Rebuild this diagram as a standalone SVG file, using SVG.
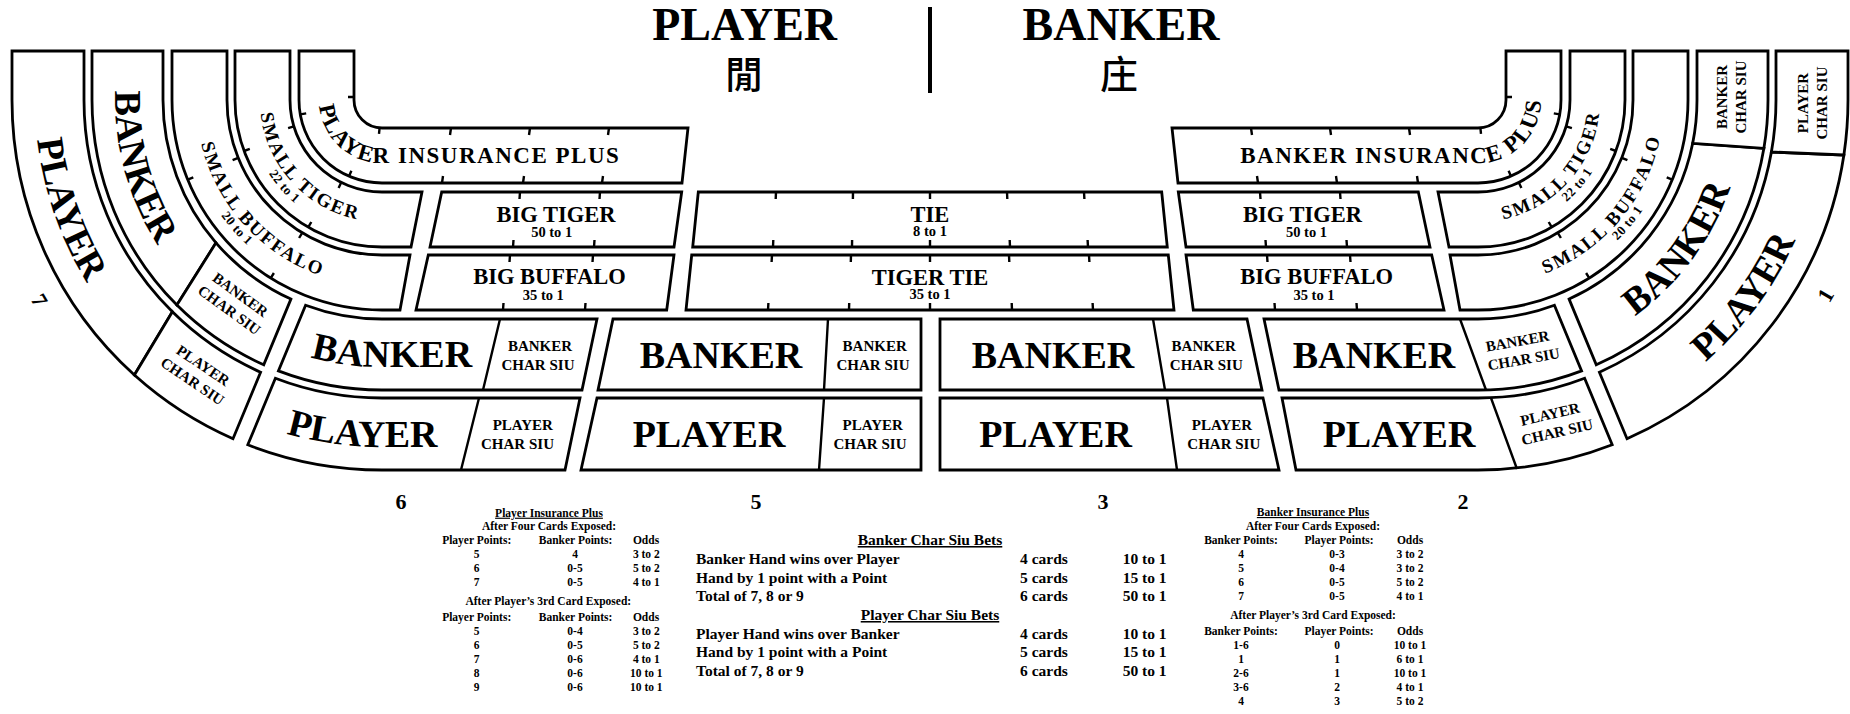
<svg xmlns="http://www.w3.org/2000/svg" width="1850" height="714" viewBox="0 0 1850 714">
<style>
.b{fill:#fff;stroke:#000;stroke-width:2.8;stroke-linejoin:miter}
.t{stroke:#000;stroke-width:2.4;fill:none}
text{font-family:"Liberation Serif","Times New Roman",serif;font-weight:bold;fill:#000}
.mid{text-anchor:middle}
.big{font-size:38px}
.cs{font-size:15px;text-anchor:middle}
.lab{font-size:22.5px;text-anchor:middle}
.odd{font-size:14.5px;text-anchor:middle}
.sm{font-size:19px;letter-spacing:2px;text-anchor:middle}
.sub{font-size:13px;letter-spacing:0.5px;text-anchor:middle}
.pip{font-size:23px;letter-spacing:1.5px}
.num{font-size:22px;text-anchor:middle}
.tb{font-size:11.5px;text-anchor:middle}
.cb{font-size:15.5px}
.ttl{font-size:46px;text-anchor:middle}
.cjk{font-family:"Noto Sans CJK TC","Noto Sans CJK SC",sans-serif;font-weight:500;font-size:38px;text-anchor:middle}
</style>
<defs>
<path id="r63" d="M319,51 L319,100 A63 63 0 0 0 382,163 L1478,163 A63 63 0 0 0 1541,100 L1541,51"/>
<path id="r122" d="M260,51 L260,100 A122 122 0 0 0 382,222 L1478,222 A122 122 0 0 0 1600,100 L1600,51"/>
<path id="r135" d="M247,51 L247,100 A135 135 0 0 0 382,235 L1478,235 A135 135 0 0 0 1613,100 L1613,51"/>
<path id="r186" d="M196,51 L196,100 A186 186 0 0 0 382,286 L1478,286 A186 186 0 0 0 1664,100 L1664,51"/>
<path id="r198" d="M184,51 L184,100 A198 198 0 0 0 382,298 L1478,298 A198 198 0 0 0 1676,100 L1676,51"/>
<path id="r267" d="M115,51 L115,100 A267 267 0 0 0 382,367 L1478,367 A267 267 0 0 0 1745,100 L1745,51"/>
<path id="r347" d="M35,51 L35,100 A347 347 0 0 0 382,447 L1478,447 A347 347 0 0 0 1825,100 L1825,51"/>
</defs>
<rect width="1850" height="714" fill="#fff"/>

<g id="title">
<text class="ttl" x="744.6" y="40">PLAYER</text>
<text class="ttl" x="1121" y="40">BANKER</text>
<text class="cjk" x="744" y="88">閒</text>
<text class="cjk" x="1119" y="88">庄</text>
<line x1="930" y1="7" x2="930" y2="93" stroke="#000" stroke-width="4"/>
</g>

<g id="player-insurance-plus">
<path class="b" d="M299,51 L354,51 L354,100 A28 28 0 0 0 382,128 L688,128 L682,183 L382,183 A83 83 0 0 1 299,100 Z"/>
<text class="pip"><textPath href="#r63" startOffset="55">PLAYER INSURANCE PLUS</textPath></text>
</g>
<g id="banker-insurance-plus">
<path class="b" d="M1172,128 L1478,128 A28 28 0 0 0 1506,100 L1506,51 L1561,51 L1561,100 A83 83 0 0 1 1478,183 L1178,183 Z"/>
<text class="pip"><textPath href="#r63" startOffset="1006">BANKER INSURANCE PLUS</textPath></text>
</g>

<g id="small-tiger-left">
<path class="b" d="M235,51 L290,51 L290,100 A92 92 0 0 0 382,192 L422,192 L411,247 L382,247 A147 147 0 0 1 235,100 Z"/>
<text class="sm"><textPath href="#r122" startOffset="139.5">SMALL TIGER</textPath></text>
<text class="sub"><textPath href="#r135" startOffset="146.8">22 to 1</textPath></text>
</g>
<g id="small-tiger-right">
<path class="b" d="M1438,192 L1478,192 A92 92 0 0 0 1570,100 L1570,51 L1625,51 L1625,100 A147 147 0 0 1 1478,247 L1449,247 Z"/>
<text class="sm"><textPath href="#r122" startOffset="1438.9">SMALL TIGER</textPath></text>
<text class="sub"><textPath href="#r135" startOffset="1473.7">22 to 1</textPath></text>
</g>
<g id="small-buffalo-left">
<path class="b" d="M172,51 L227,51 L227,100 A155 155 0 0 0 382,255 L410,255 L400,310 L382,310 A210 210 0 0 1 172,100 Z"/>
<text class="sm"><textPath href="#r186" startOffset="186.3">SMALL BUFFALO</textPath></text>
<text class="sub"><textPath href="#r198" startOffset="192.4">20 to 1</textPath></text>
</g>
<g id="small-buffalo-right">
<path class="b" d="M1450,255 L1478,255 A155 155 0 0 0 1633,100 L1633,51 L1688,51 L1688,100 A210 210 0 0 1 1478,310 L1460,310 Z"/>
<text class="sm"><textPath href="#r186" startOffset="1598.9">SMALL BUFFALO</textPath></text>
<text class="sub"><textPath href="#r198" startOffset="1630.5">20 to 1</textPath></text>
</g>

<g id="banker-seat7">
<path class="b" d="M92,51 L163,51 L163,100 A219 219 0 0 0 216,242.8 L176.9,305.1 A290 290 0 0 1 92,100 Z"/>
<text class="big" font-size="37" text-anchor="middle"><textPath href="#r267" startOffset="121">BANKER</textPath></text>
</g>
<g id="banker-char-siu-seat7">
<path class="b" d="M216,242.8 A219 219 0 0 0 290.9,299.1 L263.7,364.8 A290 290 0 0 1 176.9,305.1 Z"/>
<g class="cs" transform="translate(235,302) rotate(36)"><text y="-4">BANKER</text><text y="15">CHAR SIU</text></g>
</g>
<g id="player-seat7">
<path class="b" d="M12,51 L84,51 L84,100 A298 298 0 0 0 172.4,311.8 L134.4,375 A370 370 0 0 1 12,100 Z"/>
<text class="big" text-anchor="middle"><textPath href="#r347" startOffset="165">PLAYER</textPath></text>
</g>
<g id="player-char-siu-seat7">
<path class="b" d="M172.4,311.8 A298 298 0 0 0 260.6,372.2 L233,438.7 A370 370 0 0 1 134.4,375 Z"/>
<g class="cs" transform="translate(198,373) rotate(34)"><text y="-4">PLAYER</text><text y="15">CHAR SIU</text></g>
</g>

<g id="big-tiger-left">
<path class="b" d="M441.7,192 L681.7,192 L674,247 L430,247 Z"/>
<text class="lab" x="556" y="221.7">BIG TIGER</text>
<text class="odd" x="551.7" y="236.7">50 to 1</text>
</g>
<g id="tie">
<path class="b" d="M698.3,192 L1161.7,192 L1167.3,247 L692.7,247 Z"/>
<text class="lab" x="930" y="221.7">TIE</text>
<text class="odd" x="930" y="235.7">8 to 1</text>
</g>
<g id="big-tiger-right">
<path class="b" d="M1178.3,192 L1418.3,192 L1430,247 L1186,247 Z"/>
<text class="lab" x="1302.5" y="221.7">BIG TIGER</text>
<text class="odd" x="1306.5" y="236.7">50 to 1</text>
</g>
<g id="big-buffalo-left">
<path class="b" d="M428.3,255 L674,255 L666.7,310 L416,310 Z"/>
<text class="lab" x="549.5" y="284.3">BIG BUFFALO</text>
<text class="odd" x="543.3" y="300">35 to 1</text>
</g>
<g id="tiger-tie">
<path class="b" d="M691.7,255 L1168.3,255 L1174,310 L686,310 Z"/>
<text class="lab" x="930" y="285">TIGER TIE</text>
<text class="odd" x="930" y="299">35 to 1</text>
</g>
<g id="big-buffalo-right">
<path class="b" d="M1186,255 L1431.7,255 L1444,310 L1193.3,310 Z"/>
<text class="lab" x="1316.7" y="284.3">BIG BUFFALO</text>
<text class="odd" x="1314" y="300">35 to 1</text>
</g>

<g id="banker-seat6">
<path class="b" d="M305.6,305.2 A219 219 0 0 0 382,319 L597,319 L582,390 L382,390 A290 290 0 0 1 278.4,370.9 Z"/>
<text class="big" text-anchor="middle"><textPath href="#r267" startOffset="477">BANKER</textPath></text>
<g class="cs" transform="translate(539,354.5)"><text x="1" y="-4">BANKER</text><text x="-1" y="15">CHAR SIU</text></g>
</g>
<g id="player-seat6">
<path class="b" d="M275.4,378.3 A298 298 0 0 0 382,398 L580,398 L565,470 L382,470 A370 370 0 0 1 247.8,444.8 Z"/>
<text class="big" text-anchor="middle"><textPath href="#r347" startOffset="573">PLAYER</textPath></text>
<g class="cs" transform="translate(520,434.3)"><text x="2.8" y="-4">PLAYER</text><text x="-2.5" y="15">CHAR SIU</text></g>
</g>
<g id="banker-seat5">
<path class="b" d="M613,319 L921,319 L921,390 L598,390 Z"/>
<text class="big mid" x="721" y="368">BANKER</text>
<g class="cs" transform="translate(874,354.5)"><text x="0.7" y="-4">BANKER</text><text x="-1" y="15">CHAR SIU</text></g>
</g>
<g id="player-seat5">
<path class="b" d="M597,398 L921,398 L921,470 L581,470 Z"/>
<text class="big mid" x="709" y="447">PLAYER</text>
<g class="cs" transform="translate(871,434.3)"><text x="1.7" y="-4">PLAYER</text><text x="-1" y="15">CHAR SIU</text></g>
</g>
<g id="banker-seat3">
<path class="b" d="M940,319 L1247,319 L1262,390 L940,390 Z"/>
<text class="big mid" x="1053" y="368">BANKER</text>
<g class="cs" transform="translate(1205,354.5)"><text x="-1.3" y="-4">BANKER</text><text x="1.3" y="15">CHAR SIU</text></g>
</g>
<g id="player-seat3">
<path class="b" d="M940,398 L1263,398 L1279,470 L940,470 Z"/>
<text class="big mid" x="1055.5" y="447">PLAYER</text>
<g class="cs" transform="translate(1223,434.3)"><text x="-1" y="-4">PLAYER</text><text x="0.8" y="15">CHAR SIU</text></g>
</g>
<g id="banker-seat2">
<path class="b" d="M1264,319 L1478,319 A219 219 0 0 0 1554.4,305.2 L1581.6,370.9 A290 290 0 0 1 1478,390 L1279,390 Z"/>
<text class="big mid" x="1374" y="368">BANKER</text>
<g class="cs" transform="translate(1519,350) rotate(-10)"><text y="-4">BANKER</text><text x="3" y="15">CHAR SIU</text></g>
</g>
<g id="player-seat2">
<path class="b" d="M1282,398 L1478,398 A298 298 0 0 0 1584.6,378.3 L1612.2,444.8 A370 370 0 0 1 1478,470 L1296,470 Z"/>
<text class="big mid" x="1399" y="447">PLAYER</text>
<g class="cs" transform="translate(1552,423) rotate(-13)"><text y="-4">PLAYER</text><text x="3" y="15">CHAR SIU</text></g>
</g>

<g id="banker-seat1">
<path class="b" d="M1692.7,143.3 A219 219 0 0 1 1569.1,299.1 L1596.3,364.8 A290 290 0 0 0 1763.9,148.3 Z"/>
<text class="big" font-size="37" text-anchor="middle"><textPath href="#r267" startOffset="1813">BANKER</textPath></text>
</g>
<g id="banker-char-siu-seat1">
<path class="b" d="M1697,51 L1768,51 L1768,100 A290 290 0 0 1 1763.9,148.3 L1692.7,143.3 A219 219 0 0 0 1697,100 Z"/>
<g class="cs" transform="translate(1731,97) rotate(-90)"><text y="-4">BANKER</text><text y="15">CHAR SIU</text></g>
</g>
<g id="player-seat1">
<path class="b" d="M1771.4,152 A298 298 0 0 1 1599.4,372.2 L1627,438.7 A370 370 0 0 0 1843.9,155 Z"/>
<text class="big" text-anchor="middle"><textPath href="#r347" startOffset="2014">PLAYER</textPath></text>
</g>
<g id="player-char-siu-seat1">
<path class="b" d="M1776,51 L1848,51 L1848,100 A370 370 0 0 1 1843.9,155 L1771.4,152 A298 298 0 0 0 1776,100 Z"/>
<g class="cs" transform="translate(1812,103) rotate(-90)"><text y="-4">PLAYER</text><text y="15">CHAR SIU</text></g>
</g>

<g id="connectors">
<path class="t" d="M500,319 L483,390 M479,398 L461,470 M828,319 L824,390 M824,398 L819,470 M1153,319 L1165,390 M1167,398 L1177,470 M1460,319 L1486,390 M1491,398 L1517,469"/>
<path class="t" d="M354,97 L348,97 M300.3,114.4 L306.2,113.4 M379.6,127.9 L379,133.9 M349,176.2 L351.4,170.7 M451,128 L450,135 M530,128 L529,135 M609,128 L608,135 M442,183 L443,176 M523,183 L524,176 M602,183 L603,176
M1506,97 L1512,97 M1559.7,114.4 L1553.8,113.4 M1480.4,127.9 L1481,133.9 M1511,176.2 L1508.6,170.7 M1409,128 L1410,135 M1330,128 L1331,135 M1251,128 L1252,135 M1418,183 L1417,176 M1337,183 L1336,176 M1258,183 L1257,176
M293.9,126.4 L288.1,128.2 M244.1,151 L249.8,148.9 M341.2,182.5 L338.6,187.9 M308.3,227.2 L311.3,222
M1566.1,126.4 L1571.9,128.2 M1615.9,151 L1610.2,148.9 M1518.8,182.5 L1521.4,187.9 M1551.7,227.2 L1548.7,222
M238.2,157.8 L232.6,160.1 M187.7,179.7 L193.3,177.4 M302.2,232.9 L299.1,238 M270.7,278.1 L273.9,273
M1621.8,157.8 L1627.4,160.1 M1672.3,179.7 L1666.7,177.4 M1557.8,232.9 L1560.9,238 M1589.3,278.1 L1586.1,273
M520,192 L519.5,199 M600,192 L599.5,199 M513,247 L513.5,240 M594,247 L594.5,240
M1340,192 L1340.5,199 M1260,192 L1260.5,199 M1347,247 L1346.5,240 M1266,247 L1265.5,240
M510,255 L509.5,262 M593,255 L592.5,262 M503,310 L503.5,303 M585,310 L585.5,303
M1350,255 L1350.5,262 M1267,255 L1267.5,262 M1357,310 L1356.5,303 M1275,310 L1274.5,303
M776,192 L775.7,199 M853,192 L852.9,199 M930,192 L930,199 M1007,192 L1007.3,199 M1084,192 L1084.4,199 M773,247 L773.3,240 M852,247 L852.1,240 M930,247 L930,240 M1010,247 L1009.7,240 M1088,247 L1087.6,240
M772,255 L771.6,262 M851,255 L850.8,262 M930,255 L930,262 M1009,255 L1009.3,262 M1089,255 L1089.4,262 M768,310 L768.4,303 M849,310 L849.2,303 M930,310 L930,303 M1012,310 L1011.7,303 M1093,310 L1092.6,303"/>
</g>

<g id="seat-numbers">
<text class="num" transform="translate(40,300) rotate(60)" y="8">7</text>
<text class="num" x="401" y="509">6</text>
<text class="num" x="756" y="509">5</text>
<text class="num" x="1103" y="509">3</text>
<text class="num" x="1463" y="509">2</text>
<text class="num" transform="translate(1825,295) rotate(-60)" y="8">1</text>
</g>

<g id="player-insurance-table" class="tb">
<text x="549" y="516.7" text-decoration="underline">Player Insurance Plus</text>
<text x="549" y="530">After Four Cards Exposed:</text>
<text x="476.7" y="544">Player Points:</text><text x="575.6" y="544">Banker Points:</text><text x="646" y="544">Odds</text>
<text x="476.7" y="557.7">5</text><text x="575" y="557.7">4</text><text x="646.3" y="557.7">3 to 2</text>
<text x="476.7" y="571.8">6</text><text x="575" y="571.8">0-5</text><text x="646.3" y="571.8">5 to 2</text>
<text x="476.7" y="586">7</text><text x="575" y="586">0-5</text><text x="646.3" y="586">4 to 1</text>
<text x="548.3" y="605">After Player’s 3rd Card Exposed:</text>
<text x="476.7" y="621">Player Points:</text><text x="575.6" y="621">Banker Points:</text><text x="646" y="621">Odds</text>
<text x="476.7" y="634.5">5</text><text x="575" y="634.5">0-4</text><text x="646.3" y="634.5">3 to 2</text>
<text x="476.7" y="648.5">6</text><text x="575" y="648.5">0-5</text><text x="646.3" y="648.5">5 to 2</text>
<text x="476.7" y="662.7">7</text><text x="575" y="662.7">0-6</text><text x="646.3" y="662.7">4 to 1</text>
<text x="476.7" y="676.8">8</text><text x="575" y="676.8">0-6</text><text x="646.3" y="676.8">10 to 1</text>
<text x="476.7" y="691">9</text><text x="575" y="691">0-6</text><text x="646.3" y="691">10 to 1</text>
</g>

<g id="char-siu-table" class="cb">
<text x="930" y="545" text-anchor="middle" text-decoration="underline">Banker Char Siu Bets</text>
<text x="696" y="564.3">Banker Hand wins over Player</text><text x="1020" y="564.3">4 cards</text><text x="1122.7" y="564.3">10 to 1</text>
<text x="696" y="582.7">Hand by 1 point with a Point</text><text x="1020" y="582.7">5 cards</text><text x="1122.7" y="582.7">15 to 1</text>
<text x="696" y="601">Total of 7, 8 or 9</text><text x="1020" y="601">6 cards</text><text x="1122.7" y="601">50 to 1</text>
<text x="930" y="620" text-anchor="middle" text-decoration="underline">Player Char Siu Bets</text>
<text x="696" y="639.3">Player Hand wins over Banker</text><text x="1020" y="639.3">4 cards</text><text x="1122.7" y="639.3">10 to 1</text>
<text x="696" y="657.3">Hand by 1 point with a Point</text><text x="1020" y="657.3">5 cards</text><text x="1122.7" y="657.3">15 to 1</text>
<text x="696" y="676">Total of 7, 8 or 9</text><text x="1020" y="676">6 cards</text><text x="1122.7" y="676">50 to 1</text>
</g>

<g id="banker-insurance-table" class="tb">
<text x="1313" y="516" text-decoration="underline">Banker Insurance Plus</text>
<text x="1313" y="530">After Four Cards Exposed:</text>
<text x="1241" y="543.5">Banker Points:</text><text x="1339" y="543.5">Player Points:</text><text x="1410" y="543.5">Odds</text>
<text x="1241" y="557.7">4</text><text x="1337" y="557.7">0-3</text><text x="1410" y="557.7">3 to 2</text>
<text x="1241" y="571.8">5</text><text x="1337" y="571.8">0-4</text><text x="1410" y="571.8">3 to 2</text>
<text x="1241" y="586">6</text><text x="1337" y="586">0-5</text><text x="1410" y="586">5 to 2</text>
<text x="1241" y="600">7</text><text x="1337" y="600">0-5</text><text x="1410" y="600">4 to 1</text>
<text x="1313" y="619.3">After Player’s 3rd Card Exposed:</text>
<text x="1241" y="635">Banker Points:</text><text x="1339" y="635">Player Points:</text><text x="1410" y="635">Odds</text>
<text x="1241" y="648.5">1-6</text><text x="1337" y="648.5">0</text><text x="1410" y="648.5">10 to 1</text>
<text x="1241" y="662.7">1</text><text x="1337" y="662.7">1</text><text x="1410" y="662.7">6 to 1</text>
<text x="1241" y="676.8">2-6</text><text x="1337" y="676.8">1</text><text x="1410" y="676.8">10 to 1</text>
<text x="1241" y="691">3-6</text><text x="1337" y="691">2</text><text x="1410" y="691">4 to 1</text>
<text x="1241" y="705">4</text><text x="1337" y="705">3</text><text x="1410" y="705">5 to 2</text>
</g>
</svg>
